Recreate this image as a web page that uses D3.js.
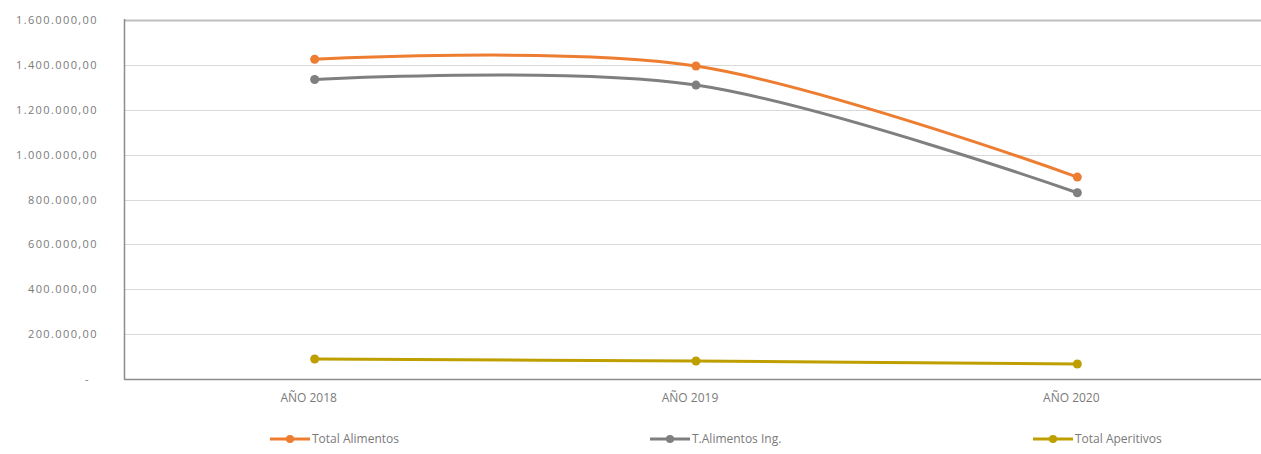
<!DOCTYPE html>
<html><head><meta charset="utf-8">
<script src="https://cdn.jsdelivr.net/npm/d3@7"></script>
<style>
body{margin:0;background:#fff;}
text{font-family:"Open Sans","Liberation Sans",sans-serif;fill:#7a7a7a;}
</style></head>
<body><svg id="c" width="1261" height="454"></svg>
<script>
const categories = ["AÑO 2018", "AÑO 2019", "AÑO 2020"];
const seriesNames = ["Total Alimentos", "T.Alimentos Ing.", "Total Aperitivos"];
const totalAlimentos = [1425000, 1395000, 900000];
const tAlimentosIng = [1335000, 1310000, 830000];
const totalAperitivos = [89000, 80000, 67000];
const yTicks = [0, 200000, 400000, 600000, 800000, 1000000, 1200000, 1400000, 1600000];
const colors = ["#ED7D31", "#7F7F7F", "#BF9F00"];

const series = [totalAlimentos, tAlimentosIng, totalAperitivos].map((v, i) => ({name: seriesNames[i], values: v, color: colors[i]}));

const svg = d3.select("#c");
const L = 124, R = 1268, T = 20, B = 379;
const x = d3.scaleBand().domain(categories).range([L, R]);
const y = d3.scaleLinear().domain([0, 1600000]).range([B, T]);

const fmt = v => v === 0 ? "-" : d3.format(",.2f")(v).replace(/,/g, "#").replace(/\./g, ",").replace(/#/g, ".");

// gridlines
svg.append("g").selectAll("line").data(yTicks.filter(t => t > 0)).join("line")
  .attr("x1", L).attr("x2", 1261).attr("y1", d => Math.round(y(d)) + 0.5).attr("y2", d => Math.round(y(d)) + 0.5)
  .attr("stroke", d => d === 1600000 ? "#bfbfbf" : "#d9d9d9").attr("stroke-width", d => d === 1600000 ? 2 : 1);

// y axis labels
const ya = svg.append("g").attr("transform", `translate(${L},0)`)
  .call(d3.axisLeft(y).tickValues(yTicks).tickFormat(fmt).tickSize(0).tickPadding(26));
ya.select(".domain").remove();
ya.selectAll("text").style("font-size", "11px").style("letter-spacing", "1.4px").attr("fill", "#7a7a7a");
ya.selectAll(".tick").filter(d => d === 0).select("text").attr("dx", -8);

// axis lines
svg.append("line").attr("x1", L + 0.5).attr("x2", L + 0.5).attr("y1", T - 1).attr("y2", B + 1).attr("stroke", "#8c8c8c").attr("stroke-width", 1.5);
const xa = svg.append("g").attr("transform", `translate(0,${B})`)
  .call(d3.axisBottom(x).tickSize(0).tickPadding(14));
xa.select(".domain").attr("stroke", "#8c8c8c").attr("stroke-width", 1.5);
xa.selectAll("text").style("font-size", "12px").attr("dx", -6).attr("fill", "#7a7a7a");

// lines
const line = d3.line().x((d, i) => x(categories[i]) + x.bandwidth() / 2).y(d => y(d)).curve(d3.curveCatmullRom.alpha(0));
series.forEach(s => {
  svg.append("path").attr("d", line(s.values)).attr("fill", "none").attr("stroke", s.color).attr("stroke-width", 3).attr("stroke-linecap", "round");
  svg.append("g").selectAll("circle").data(s.values).join("circle")
    .attr("cx", (d, i) => x(categories[i]) + x.bandwidth() / 2).attr("cy", d => y(d)).attr("r", 4.5).attr("fill", s.color);
});

// legend
const legX = [270, 650, 1033];
series.forEach((s, i) => {
  const g = svg.append("g").attr("transform", `translate(${legX[i]},439)`);
  g.append("line").attr("x1", 0).attr("x2", 40).attr("stroke", s.color).attr("stroke-width", 3);
  g.append("circle").attr("cx", 20).attr("r", 4).attr("fill", s.color);
  g.append("text").attr("x", 42).attr("dy", "0.35em").style("font-size", "12px").text(s.name);
});
</script></body></html>
